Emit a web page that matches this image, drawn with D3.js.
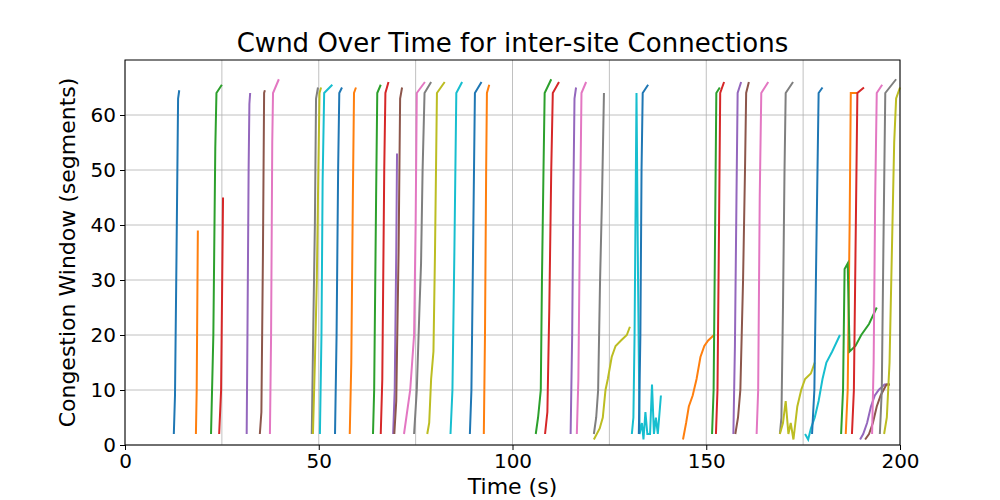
<!DOCTYPE html>
<html><head><meta charset="utf-8">
<script src="https://cdn.jsdelivr.net/npm/d3@7"></script>
<style>body{margin:0;background:#fff}text{font-family:"DejaVu Sans",sans-serif}</style>
</head><body>
<svg id="c" width="1000" height="500"></svg>
<script>
const title = "Cwnd Over Time for inter-site Connections";
const xLabel = "Time (s)";
const yLabel = "Congestion Window (segments)";
const xTicks = [0,50,100,150,200];
const yTicks = [0,10,20,30,40,50,60];
const palette = ["#1f77b4","#ff7f0e","#2ca02c","#d62728","#9467bd","#8c564b","#e377c2","#7f7f7f","#bcbd22","#17becf"];
const seriesColors = [0,1,2,3,4,5,6,7,8,9,0,1,2,3,4,5,6,7,8,9,0,1,2,3,4,6,7,8,9,0,1,2,3,4,5,6,7,8,9,0,1,2,3,4,5,6,7,8];
const seriesPoints = [
 [[12.6,2],[12.9,9],[13.3,35],[13.7,63],[14.0,64.5]],
 [[18.3,2],[18.5,10],[18.8,39]],
 [[22.2,2],[22.8,20],[23.3,54],[23.6,64],[25,65.5]],
 [[24.3,2],[24.8,10],[25.3,45]],
 [[31.4,2],[31.6,20],[31.9,50],[32.1,62],[32.3,64]],
 [[34.8,2],[35.2,6],[35.6,35],[35.9,64],[36.1,64.5]],
 [[37.4,2],[37.7,20],[38,55],[38.2,64],[39.7,66.5]],
 [[48.2,2],[48.6,22],[49.0,40],[49.3,63],[49.8,65]],
 [[48.5,2],[49.0,15],[49.5,30],[49.9,50],[50.2,64],[50.6,65]],
 [[50.3,2],[50.7,20],[51,48],[51.4,64],[53.5,65.5]],
 [[54.2,2],[54.6,20],[55.0,50],[55.3,64],[56,65]],
 [[58.0,2],[58.4,15],[58.8,45],[59.1,64],[59.6,65]],
 [[64.0,2],[64.3,10],[64.8,45],[65.1,64],[66,65.5]],
 [[66.0,2],[66.4,12],[66.9,50],[67.2,64],[68,66]],
 [[69.2,2],[69.6,10],[70.0,35],[70.2,53]],
 [[69.5,2],[70.0,8],[70.6,35],[71.0,63],[71.5,65]],
 [[72.0,2],[72.6,5],[73.6,10],[74.6,20],[75.0,40],[75.3,64],[77.4,66]],
 [[74.6,2],[75.3,10],[76.0,25],[76.4,33],[76.8,50],[77.3,64],[79,66]],
 [[78.0,2],[78.5,4],[79.0,12],[79.6,17],[80.0,35],[80.5,64],[82.5,66]],
 [[84.0,2],[84.5,10],[85.0,35],[85.5,64],[87.0,66]],
 [[89.0,2],[89.4,10],[89.9,40],[90.3,64],[92.0,66]],
 [[92.6,2],[92.9,20],[93.2,50],[93.4,64],[94.0,65.5]],
 [[106.0,2],[106.6,5],[107.3,10],[107.6,30],[108.0,50],[108.3,64],[110,66.5]],
 [[108.4,2],[109.0,6],[109.5,25],[110,50],[110.4,64],[112,66]],
 [[115.0,2],[115.4,20],[115.7,45],[116.0,63],[116.4,65]],
 [[116.6,2],[117.0,12],[117.4,40],[117.8,64],[119,66]],
 [[121.0,2],[121.6,5],[122.1,10],[122.6,30],[123.1,45],[123.6,64]],
 [[121.0,1],[122.5,3],[123.3,5],[124.0,10],[124.6,12],[125.6,16],[126.6,18],[128,19],[129.5,20],[130.3,21.5]],
 [[130.8,2],[131.2,5],[131.5,20],[132,64],[132.4,30],[132.8,2],[133.4,4],[133.8,1],[134.3,6],[134.8,2],[135.5,2],[136,11],[136.5,2],[137,5],[137.5,2],[138.3,9]],
 [[132.6,2],[133,20],[133.3,50],[133.6,64],[135,65.5]],
 [[144.0,1],[144.8,4],[145.5,7],[146.5,9],[147.5,12],[148.5,16],[149.5,18],[150.5,19],[152,20]],
 [[151.5,2],[151.9,10],[152.3,40],[152.6,64],[153.5,65]],
 [[152.5,2],[152.9,10],[153.3,40],[153.6,64],[154.6,66]],
 [[157.0,2],[157.4,18],[157.8,45],[158.1,64],[159,66]],
 [[157.5,2],[158.2,5],[158.8,10],[159.5,30],[160,50],[160.3,64],[161,66]],
 [[163.0,2],[163.4,10],[163.8,45],[164.2,64],[166,66]],
 [[169.0,2],[169.4,5],[169.8,25],[170.2,50],[170.5,64],[172.4,66]],
 [[169.0,2],[169.8,4],[170.5,8],[171.2,2],[171.8,4],[172.5,1],[173.5,7],[174.5,10],[175.5,12],[177,13],[178,15]],
 [[175.5,2],[176.3,1],[177,3],[178,5],[179,8],[180,12],[181,15],[182.5,17],[184.5,20]],
 [[177.3,2],[177.9,10],[178.5,40],[179,64],[180,65]],
 [[186.0,2],[186.5,10],[187,40],[187.3,64],[189,64]],
 [[184.8,2],[185.3,10],[185.7,32],[186.5,33],[187.0,17],[188.5,18],[190,20],[192,22],[194,25]],
 [[187.6,2],[188.1,10],[188.6,40],[189,64],[190.7,65]],
 [[189.7,1],[190.5,2],[191.5,4],[192.5,7],[193.5,9],[194.5,10],[196,11],[197.4,11]],
 [[191,1],[192,2],[193,4],[194,7],[195,9],[196.5,11],[197.4,11]],
 [[192.8,2],[193.2,15],[193.6,45],[194,64],[195.4,65.5]],
 [[194.8,2],[195.3,10],[195.7,35],[196.2,64],[199,66.5]],
 [[195.9,2],[196.6,5],[197.3,15],[197.9,35],[198.5,55],[199,63],[200,65]]
];
const svg = d3.select("#c");
const m = {l:125,r:900,t:60,b:445};
const x = d3.scaleLinear().domain([0,200]).range([m.l,m.r]);
const y = d3.scaleLinear().domain([0,70]).range([m.b,m.t]);
const g = svg.append("g");
g.selectAll(".vg").data(d3.range(0,201,25)).enter().append("line")
 .attr("x1",d=>x(d)).attr("x2",d=>x(d)).attr("y1",m.t).attr("y2",m.b).attr("stroke","#b0b0b0").attr("stroke-width",0.8);
g.selectAll(".hg").data(yTicks).enter().append("line")
 .attr("y1",d=>y(d)).attr("y2",d=>y(d)).attr("x1",m.l).attr("x2",m.r).attr("stroke","#b0b0b0").attr("stroke-width",0.8);
const line = d3.line().x(d=>x(d[0])).y(d=>y(d[1]));
seriesPoints.forEach((pts,i)=>{
 g.append("path").attr("d",line(pts)).attr("fill","none").attr("stroke",palette[seriesColors[i]]).attr("stroke-width",2);
});
svg.append("rect").attr("x",m.l).attr("y",m.t).attr("width",m.r-m.l).attr("height",m.b-m.t).attr("fill","none").attr("stroke","#000").attr("stroke-width",1);
const xa = svg.append("g").attr("transform",`translate(0,${m.b})`).call(d3.axisBottom(x).tickValues(xTicks).tickSize(5).tickPadding(4));
const ya = svg.append("g").attr("transform",`translate(${m.l},0)`).call(d3.axisLeft(y).tickValues(yTicks).tickSize(5).tickPadding(4));
[xa,ya].forEach(a=>{a.select(".domain").remove();a.selectAll("text").attr("font-size",20).attr("font-family","DejaVu Sans").attr("fill","#000");a.selectAll("line").attr("stroke","#000");});
svg.append("text").attr("x",(m.l+m.r)/2).attr("y",52).attr("text-anchor","middle").attr("font-size",26).text(title);
svg.append("text").attr("x",(m.l+m.r)/2).attr("y",494).attr("text-anchor","middle").attr("font-size",22).text(xLabel);
svg.append("text").attr("transform",`translate(75,${(m.t+m.b)/2}) rotate(-90)`).attr("text-anchor","middle").attr("font-size",22).text(yLabel);
</script>
</body></html>
